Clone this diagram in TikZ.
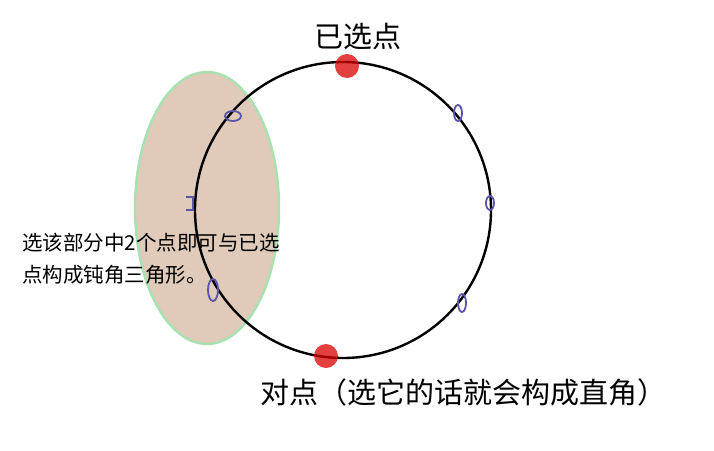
\documentclass[tikz,border=0pt]{standalone}
\usepackage{fontspec}
\newfontfamily\cjk{Noto Sans CJK SC}
\begin{document}
\begin{tikzpicture}[x=1pt,y=-1pt,
  mark loop/.style={draw={rgb,255:red,90;green,85;blue,170}, line width=1.8pt},
  reddot/.style={fill=red!85!black, opacity=0.75},
  lbl/.style={font=\cjk, inner sep=0pt, anchor=center}]
\useasboundingbox (0,0) rectangle (714,450);
\draw[draw={rgb,255:red,168;green,226;blue,176}, line width=2.4pt, fill={rgb,255:red,224;green,202;blue,186}] (207,208) ellipse [x radius=72, y radius=136];
\coordinate (c) at (343,210);
\draw[line width=2.4pt] (c) circle [radius=148];
\fill[reddot] (347,66) circle [radius=12];
\fill[reddot] (326,356) circle [radius=12];
\draw[mark loop] (233,116) ellipse [x radius=8, y radius=5];
\draw[mark loop] (458,113) ellipse [x radius=4, y radius=8];
\draw[mark loop] (490,203) ellipse [x radius=4, y radius=7];
\draw[mark loop] (462,303) ellipse [x radius=4, y radius=9];
\draw[mark loop] (213,290) ellipse [x radius=5, y radius=11];
\draw[mark loop] (186,197) -- (193,197) -- (193,210) -- (186,210);
\node[lbl, font=\cjk\fontsize{29}{34}\selectfont] (top) at (358,36) {已选点};
\node[lbl, font=\cjk\fontsize{29}{34}\selectfont] (bot) at (463,392) {对点（选它的话就会构成直角）};
\node[lbl, anchor=west, font=\cjk\fontsize{20.5}{24}\selectfont] (l1) at (22,243) {选该部分中2个点即可与已选};
\node[lbl, anchor=west, font=\cjk\fontsize{20.5}{24}\selectfont] (l2) at (22,275) {点构成钝角三角形。};
\end{tikzpicture}
\end{document}
